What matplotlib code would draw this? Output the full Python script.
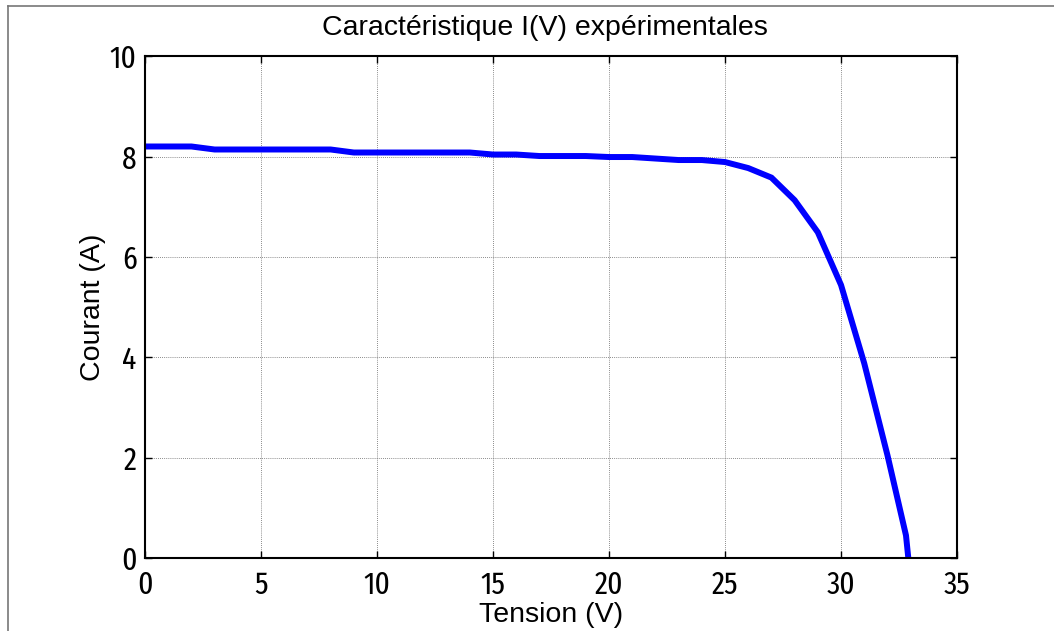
import matplotlib.pyplot as plt
from matplotlib.lines import Line2D
from matplotlib import font_manager

# Mesures I(V) du panneau
tension = [0, 1, 2, 3, 4, 5, 6, 7, 8, 9, 10, 11, 12, 13, 14, 15, 16, 17, 18,
           19, 20, 21, 22, 23, 24, 25, 26, 27, 28, 29, 30, 31, 32, 32.8, 32.9]
courant = [8.20, 8.20, 8.20, 8.14, 8.14, 8.14, 8.14, 8.14, 8.14, 8.08, 8.08,
           8.08, 8.08, 8.08, 8.08, 8.04, 8.04, 8.01, 8.01, 8.01, 7.99, 7.99,
           7.96, 7.93, 7.93, 7.89, 7.77, 7.58, 7.13, 6.49, 5.44, 3.88, 2.05,
           0.45, 0.0]

x_ticks = [0, 5, 10, 15, 20, 25, 30, 35]
y_ticks = [0, 2, 4, 6, 8, 10]


def police_etroite():
    # cherche une police condensée installée pour les graduations
    etroites = []
    for f in font_manager.fontManager.ttflist:
        nom = f.name.lower()
        if f.style != 'normal' or f.weight not in (400, 'normal', 'regular'):
            continue
        if ('narrow' in nom or 'condensed' in nom
                or f.stretch in ('condensed', 'semi-condensed', 'extra-condensed')):
            etroites.append(f)
    etroites.sort(key=lambda f: (f.stretch != 'extra-condensed' and 'extra' not in f.fname.lower(),
                                 f.name))
    if etroites:
        return font_manager.FontProperties(fname=etroites[0].fname, size=23)
    return font_manager.FontProperties(family='DejaVu Sans', size=19)


tick_prop = police_etroite()
label_font = dict(family='Liberation Sans', size=20.5)

fig = plt.figure(figsize=(10.54, 6.31), dpi=100)
ax = fig.add_axes([0.1376, 0.1157, 0.7704, 0.7953])

ax.plot(tension, courant, color='#0000ff', linewidth=4.3, solid_joinstyle='miter')

ax.set_xlim(0, 35)
ax.set_ylim(0, 10)
ax.set_xticks(x_ticks)
ax.set_yticks(y_ticks)
ax.grid(True, color='#666666', linestyle=(0, (1, 1.5)), linewidth=0.6)

ax.tick_params(direction='in', length=5, width=1.0, top=True, right=True)
ax.tick_params(axis='x', pad=9)
ax.tick_params(axis='y', pad=6)
for lab in ax.get_xticklabels() + ax.get_yticklabels():
    lab.set_fontproperties(tick_prop)
for sp in ax.spines.values():
    sp.set_linewidth(1.5)

ax.set_title('Caractéristique I(V) expérimentales', fontdict=label_font,
             pad=15, x=0.4926)
ax.set_xlabel('Tension (V)', fontdict=label_font, labelpad=1)
ax.set_ylabel('Courant (A)', fontdict=label_font, labelpad=3)

# cadre partiel en haut et à gauche
fig.add_artist(Line2D([0.0076, 1.0], [0.9905, 0.9905], color='#777777',
                      linewidth=1.2, transform=fig.transFigure))
fig.add_artist(Line2D([0.0076, 0.0076], [0.0, 0.9905], color='#777777',
                      linewidth=1.2, transform=fig.transFigure))

fig.savefig('out.png', dpi=100)
